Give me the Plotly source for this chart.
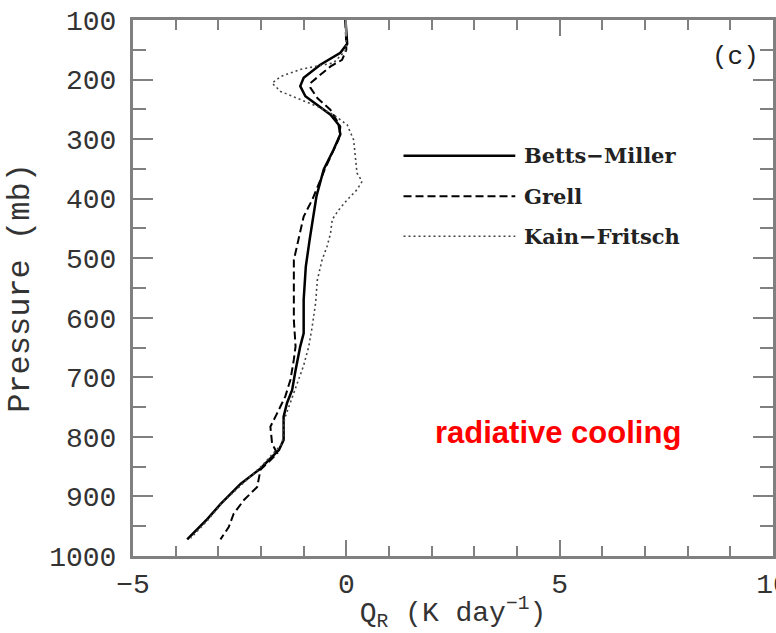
import plotly.graph_objects as go

# Betts-Miller (solid)
bm_p = [100, 140, 155, 175, 197, 211, 228, 242, 259, 276, 292, 318, 351, 396, 430, 469, 514, 570, 626, 648, 688, 721, 743, 766, 805, 822, 836, 853, 879, 913, 938, 955, 972]
bm_v = [-0.02, 0.02, -0.14, -0.61, -1.0, -1.08, -0.96, -0.68, -0.37, -0.18, -0.14, -0.30, -0.53, -0.70, -0.78, -0.86, -0.95, -1.0, -1.0, -1.08, -1.19, -1.27, -1.39, -1.47, -1.47, -1.58, -1.78, -2.01, -2.48, -2.95, -3.26, -3.50, -3.73]

# Grell (dashed)
gr_p = [100, 150, 167, 178, 192, 206, 214, 231, 251, 279, 300, 350, 402, 430, 452, 480, 503, 559, 604, 648, 670, 704, 732, 760, 783, 811, 828, 855, 884, 906, 929, 952, 972]
gr_v = [-0.02, 0.0, -0.10, -0.37, -0.61, -0.84, -0.84, -0.68, -0.37, -0.14, -0.18, -0.50, -0.80, -1.0, -1.07, -1.15, -1.23, -1.23, -1.23, -1.19, -1.23, -1.31, -1.43, -1.62, -1.78, -1.74, -1.62, -2.01, -2.09, -2.40, -2.64, -2.76, -2.95]

# Kain-Fritsch (dotted)
kf_p = [100, 150, 172, 183, 195, 206, 220, 234, 245, 259, 276, 301, 335, 357, 371, 385, 402, 419, 435, 458, 480, 503, 537, 575, 615, 648, 680, 704, 740, 770, 811, 850, 880, 910, 940, 970]
kf_v = [-0.02, 0.0, -0.30, -1.08, -1.54, -1.74, -1.54, -1.08, -0.68, -0.30, 0.02, 0.17, 0.21, 0.25, 0.37, 0.25, 0.02, -0.18, -0.33, -0.37, -0.45, -0.57, -0.68, -0.72, -0.80, -0.88, -1.0, -1.12, -1.30, -1.45, -1.50, -2.0, -2.45, -2.90, -3.25, -3.65]

series_names = ["Betts\u2212Miller", "Grell", "Kain\u2212Fritsch"]
x_ticks = [-5, 0, 5, 10]
y_ticks = [100, 200, 300, 400, 500, 600, 700, 800, 900, 1000]

mono = "Liberation Mono"
axis_col = "#808080"
txt_col = "#333333"

fig = go.Figure()
styles = [
    dict(color="black", width=2.5, dash="solid"),
    dict(color="black", width=2, dash="8px,4px"),
    dict(color="#444444", width=1.6, dash="2px,3px"),
]
for name, v, p, st in zip(series_names, [bm_v, gr_v, kf_v], [bm_p, gr_p, kf_p], styles):
    fig.add_trace(go.Scatter(x=v, y=p, mode="lines", name=name, line=st, showlegend=False))

# legend (drawn manually)
leg_p = [328, 396, 463]
for name, lp, st in zip(series_names, leg_p, styles):
    fig.add_shape(type="line", xref="x", yref="y", x0=1.34, x1=3.96, y0=lp, y1=lp, line=st)
    fig.add_annotation(x=4.12, y=lp, xref="x", yref="y", text="<b>" + name + "</b>", showarrow=False,
                       xanchor="left", yanchor="middle",
                       font=dict(family="DejaVu Serif", size=21, color="#222222"))

fig.add_annotation(x=9.12, y=162, xref="x", yref="y", text="(c)", showarrow=False,
                   font=dict(family=mono, size=26, color="#222222"))
fig.add_annotation(x=4.97, y=792, xref="x", yref="y", text="<b>radiative cooling</b>", showarrow=False,
                   font=dict(family="Liberation Sans", size=31, color="red"))

fig.update_xaxes(range=[-5, 10], tickvals=x_ticks, ticktext=["\u22125", "0", "5", "10"],
                 showline=True, linewidth=3, linecolor=axis_col, mirror="ticks",
                 ticks="inside", ticklen=16, tickwidth=2, tickcolor=axis_col,
                 minor=dict(dtick=1, ticks="inside", ticklen=10, tickwidth=2, tickcolor=axis_col),
                 showgrid=False, zeroline=False, ticklabeloverflow="allow", automargin=False,
                 tickfont=dict(family=mono, size=28, color=txt_col),
                 title=dict(text="Q<sub>R</sub> (K day<sup>\u22121</sup>)", standoff=6,
                            font=dict(family=mono, size=28, color=txt_col)))
fig.update_yaxes(range=[1000, 100], tickvals=y_ticks,
                 showline=True, linewidth=3, linecolor=axis_col, mirror="ticks",
                 ticks="inside", ticklen=20, tickwidth=2, tickcolor=axis_col,
                 minor=dict(dtick=50, ticks="inside", ticklen=13, tickwidth=2, tickcolor=axis_col),
                 showgrid=False, zeroline=False, ticklabelstandoff=8, automargin=False,
                 tickfont=dict(family=mono, size=28, color=txt_col),
                 title=dict(text="Pressure (mb)", standoff=10,
                            font=dict(family=mono, size=32, color=txt_col)))

fig.update_layout(width=776, height=633, margin=dict(l=133, r=3, t=20, b=77),
                  plot_bgcolor="white", paper_bgcolor="white")

fig.write_html("out.html")
